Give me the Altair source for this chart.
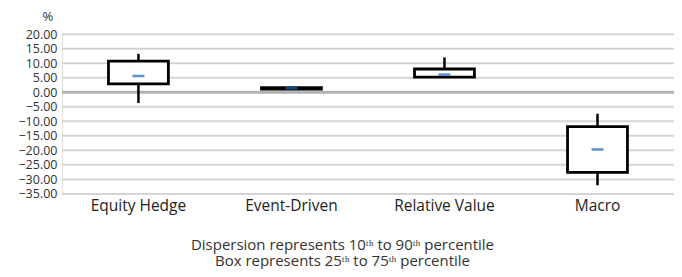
import altair as alt
import pandas as pd

categories = ["Equity Hedge", "Event-Driven", "Relative Value", "Macro"]
p10 = [-3.7, 1.1, 5.2, -32.0]
q1 = [2.9, 1.1, 5.2, -27.6]
median = [5.6, 1.4, 6.1, -19.7]
q3 = [10.7, 1.6, 8.0, -11.8]
p90 = [13.2, 1.6, 12.0, -7.4]
y_ticks = [20, 15, 10, 5, 0, -5, -10, -15, -20, -25, -30, -35]
notes = ["Dispersion represents 10ᵗʰ to 90ᵗʰ percentile",
         "Box represents 25ᵗʰ to 75ᵗʰ percentile"]

df = pd.DataFrame({"cat": categories, "p10": p10, "q1": q1, "med": median,
                   "q3": q3, "p90": p90})

FONT = "Open Sans"
W, H = 613, 160

x = alt.X("cat:N", sort=categories, title=None,
          scale=alt.Scale(paddingInner=0, paddingOuter=0),
          axis=alt.Axis(labelAngle=0, ticks=False, domain=False,
                        labelFontSize=15.5, labelColor="#222", labelFont=FONT,
                        labelPadding=5))
yscale = alt.Scale(domain=[-35, 20], nice=False)
yaxis = alt.Axis(values=y_ticks, format=".2f", ticks=False, title=None,
                 domain=False, grid=False, labelFontSize=12.5,
                 labelOverlap=False, labelColor="#333",
                 labelFont=FONT, labelPadding=5)


def yenc(field):
    return alt.Y(field, scale=yscale, axis=yaxis, title=None)


base = alt.Chart(df)

grid = alt.Chart(pd.DataFrame({"v": y_ticks})).mark_rule(
    color="#d4d4d4", strokeWidth=2).encode(y=yenc("v:Q"))

zero = alt.Chart(pd.DataFrame({"v": [0]})).mark_rule(
    color="#b3b3b3", strokeWidth=3).encode(y=yenc("v:Q"))

upper = base.mark_rule(color="black", strokeWidth=2.5).encode(
    x=x, y=yenc("q3:Q"), y2="p90:Q")
lower = base.mark_rule(color="black", strokeWidth=2.5).encode(
    x=x, y=yenc("p10:Q"), y2="q1:Q")
box = base.mark_bar(size=60, fill="white", stroke="black",
                    strokeWidth=2.8).encode(
    x=x, y=yenc("q1:Q"), y2="q3:Q")
med = base.mark_tick(color="#1565c0", size=12, thickness=2.5).encode(
    x=x, y=yenc("med:Q"))

pct = alt.Chart(pd.DataFrame({"t": ["%"]})).mark_text(
    fontSize=13, font=FONT, color="#333").encode(
    text="t:N", x=alt.value(-14), y=alt.value(-17))

notes_df = pd.DataFrame({"t": notes, "yy": [211, 227]})
note = alt.Chart(notes_df).mark_text(
    fontSize=15, font=FONT, color="#333").encode(
    text="t:N", x=alt.value(281), y=alt.Y("yy:Q", scale=None))

chart = alt.layer(grid, zero, upper, lower, box, med, pct, note).properties(
    width=W, height=H,
    padding={"left": 54, "top": 26, "right": 0, "bottom": 75},
    autosize=alt.AutoSizeParams(type="none"),
).configure_view(stroke=None).configure(background="white")

chart.save("out.html", embed_options={"renderer": "svg", "actions": False})
